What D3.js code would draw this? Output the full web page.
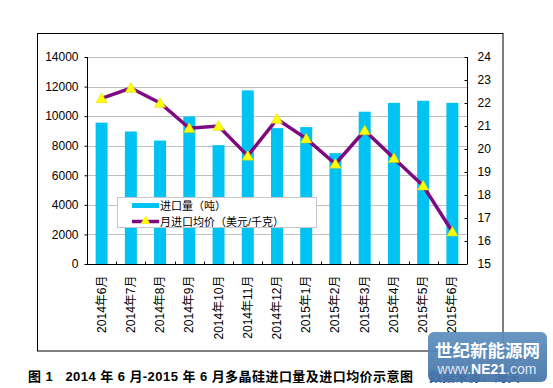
<!DOCTYPE html>
<html><head><meta charset="utf-8">
<script src="https://cdn.jsdelivr.net/npm/d3@7"></script>
<style>
body{margin:0;background:#fff;}
svg{display:block;}
text{font-family:"Liberation Sans",Arial,"Noto Sans CJK SC",sans-serif;}
</style></head>
<body><svg id="c" width="553" height="388"></svg>
<script>
const categories = ["2014年6月","2014年7月","2014年8月","2014年9月","2014年10月","2014年11月","2014年12月","2015年1月","2015年2月","2015年3月","2015年4月","2015年5月","2015年6月"];
const importVolume = [9560, 8960, 8350, 9980, 8040, 11740, 9190, 9260, 7500, 10300, 10900, 11040, 10900];
const avgPrice = [22.2, 22.65, 22.0, 20.9, 21.0, 19.7, 21.3, 20.45, 19.35, 20.8, 19.6, 18.4, 16.4];
const leftTicks = [0, 2000, 4000, 6000, 8000, 10000, 12000, 14000];
const rightTicks = [15, 16, 17, 18, 19, 20, 21, 22, 23, 24];
const seriesNames = ["进口量（吨）", "月进口均价（美元/千克）"];
const captionText = "图 1   2014 年 6 月-2015 年 6 月多晶硅进口量及进口均价示意图";
const sourceText = "数据来源：海关";

const svg = d3.select("#c");
const L = 87, R = 467, T = 57, B = 264;
const barColor = "#00C2F3", lineColor = "#7D0A80", triColor = "#FFFF00";

// outer frame
svg.append("rect").attr("x",37.5).attr("y",33.5).attr("width",465.5).attr("height",317.5)
  .attr("fill","none").attr("stroke","#000").attr("stroke-width",1);

const xb = d3.scaleBand().domain(categories).range([L,R]);
const yL = d3.scaleLinear().domain([0,14000]).range([B,T]);
const yR = d3.scaleLinear().domain([15,24]).range([B,T]);

// gridlines
svg.append("g").selectAll("line").data(leftTicks.filter(d=>d>0)).join("line")
  .attr("x1",L).attr("x2",R).attr("y1",d=>Math.round(yL(d))+0.5).attr("y2",d=>Math.round(yL(d))+0.5)
  .attr("stroke","#c0c0c0").attr("stroke-width",1);

// bars
svg.append("g").selectAll("rect").data(importVolume).join("rect")
  .attr("x",(d,i)=>xb(categories[i]) + xb.bandwidth()/2 - 6)
  .attr("width",12)
  .attr("y",d=>yL(d)).attr("height",d=>B-yL(d))
  .attr("fill",barColor);

// left axis
const gL = svg.append("g").attr("transform",`translate(${L+0.5},0)`)
  .call(d3.axisLeft(yL).tickValues(leftTicks).tickFormat(d3.format("d")).tickSize(3).tickPadding(6));
gL.selectAll("text").attr("font-size","12px").attr("fill","#000");
gL.selectAll("line,path").attr("stroke","#000");
gL.select(".domain").attr("d",`M0,${T}V${B}`);

// right axis
const gR = svg.append("g").attr("transform",`translate(${R+0.5},0)`)
  .call(d3.axisRight(yR).tickValues(rightTicks).tickSize(-3).tickPadding(10));
gR.selectAll("text").attr("font-size","12px").attr("fill","#000");
gR.selectAll("line,path").attr("stroke","#000");
gR.select(".domain").attr("d",`M0,${T}V${B}`);

// bottom axis
const gB = svg.append("g").attr("transform",`translate(0,${B+0.5})`);
gB.append("line").attr("x1",L).attr("x2",R).attr("stroke","#000");
gB.selectAll("line.tk").data(categories.slice(1)).join("line").attr("class","tk")
  .attr("x1",d=>Math.round(xb(d))+0.5).attr("x2",d=>Math.round(xb(d))+0.5)
  .attr("y1",0).attr("y2",-3).attr("stroke","#000");
gB.selectAll("text").data(categories).join("text")
  .attr("transform",d=>`translate(${xb(d)+xb.bandwidth()/2+4},11) rotate(-90)`)
  .attr("text-anchor","end").attr("font-size","12px").attr("fill","#000")
  .text(d=>d);

// line
const cx = (i)=> xb(categories[i]) + xb.bandwidth()/2;
svg.append("path").datum(avgPrice)
  .attr("d",d3.line().x((d,i)=>cx(i)).y(d=>yR(d)))
  .attr("fill","none").attr("stroke",lineColor).attr("stroke-width",3.5).attr("stroke-linejoin","miter");
const tri = d3.symbol().type(d3.symbolTriangle).size(55);
svg.append("g").selectAll("path").data(avgPrice).join("path")
  .attr("transform",(d,i)=>`translate(${cx(i)},${yR(d)+1})`)
  .attr("d",tri).attr("fill",triColor).attr("stroke","#d8d000").attr("stroke-width",0.5);

// legend
const lg = svg.append("g");
lg.append("rect").attr("x",117.5).attr("y",197.5).attr("width",199).attr("height",30)
  .attr("fill","#fff").attr("stroke","#c8c8c8").attr("stroke-width",1);
lg.append("rect").attr("x",132).attr("y",203).attr("width",27).attr("height",5).attr("fill",barColor);
lg.append("line").attr("x1",132).attr("x2",159).attr("y1",221.5).attr("y2",221.5)
  .attr("stroke",lineColor).attr("stroke-width",3.5);
lg.append("path").attr("transform","translate(145.5,221)").attr("d",d3.symbol().type(d3.symbolTriangle).size(40)).attr("fill",triColor);
lg.selectAll("text").data(seriesNames).join("text")
  .attr("x",160).attr("y",(d,i)=>i===0?209.5:226)
  .attr("font-size","11px").attr("font-family","'Noto Sans CJK SC',sans-serif").attr("fill","#000")
  .text(d=>d);

// caption
svg.append("text").attr("x",28).attr("y",381)
  .style("white-space","pre")
  .attr("font-size","13px").attr("font-weight","bold")
  .attr("font-family","'Liberation Serif','Times New Roman','Noto Sans CJK SC',serif")
  .attr("textLength",385).attr("lengthAdjust","spacing")
  .text(captionText);
svg.append("text").attr("x",429).attr("y",381)
  .attr("font-size","13px").attr("font-weight","bold")
  .attr("font-family","'Noto Sans CJK SC',serif").attr("fill","#1a3a80")
  .text(sourceText);

// watermark
const defs = svg.append("defs");
const gr = defs.append("linearGradient").attr("id","wm").attr("x1",0).attr("y1",0).attr("x2",0).attr("y2",1);
gr.append("stop").attr("offset","0%").attr("stop-color","#5f8fbf");
gr.append("stop").attr("offset","100%").attr("stop-color","#4474a8");
const wm = svg.append("g").attr("opacity",0.93);
wm.append("rect").attr("x",428).attr("y",332).attr("width",119).attr("height",50).attr("rx",6)
  .attr("fill","url(#wm)");
wm.append("text").attr("x",487.5).attr("y",357).attr("text-anchor","middle")
  .attr("font-size","17.5px").attr("font-weight","bold").attr("fill","#fff")
  .attr("font-family","'Noto Sans CJK SC',sans-serif").text("世纪新能源网");
const wt = wm.append("text").attr("x",487).attr("y",374).attr("text-anchor","middle")
  .attr("font-size","14px").attr("fill","#dce8f4").attr("font-family","'Liberation Sans',Arial,sans-serif");
wt.append("tspan").text("www.");
wt.append("tspan").attr("font-weight","bold").attr("fill","#fff").text("NE21");
wt.append("tspan").text(".com");
</script></body></html>
